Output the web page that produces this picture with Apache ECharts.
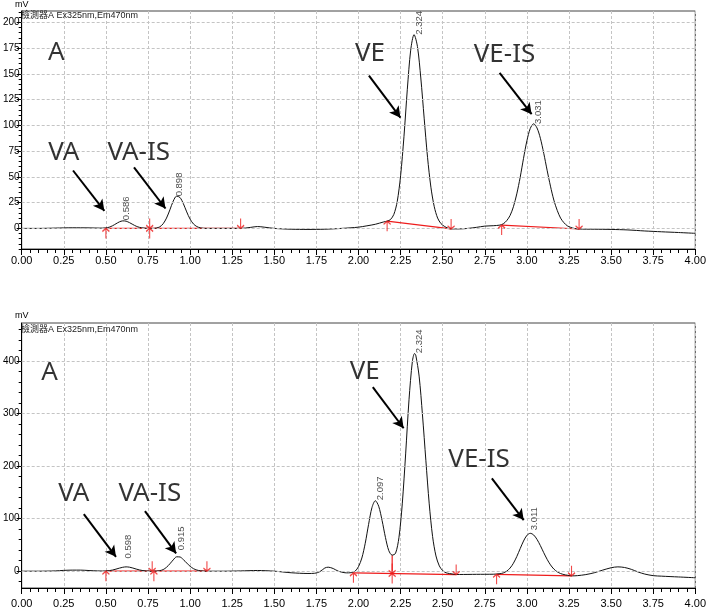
<!DOCTYPE html>
<html><head><meta charset="utf-8">
<script src="https://cdn.jsdelivr.net/npm/echarts@6/dist/echarts.min.js"></script>
<style>html,body{margin:0;padding:0;background:#fff}#c{width:709px;height:612px}</style>
</head><body><div id="c"></div><script>
// ---------- DATA (time in min, signal in mV) ----------
const topTrace = [
[0.00,0],[0.10,0],[0.20,0.3],[0.30,0.6],[0.40,0.5],[0.46,0.3],
[0.48,0.3],[0.50,0.5],[0.52,1.2],[0.54,2.6],[0.56,4.5],[0.58,6.3],[0.60,7.3],[0.62,7.0],[0.64,5.6],[0.66,3.8],[0.68,2.1],[0.70,1.0],[0.72,0.4],[0.74,0.1],[0.76,0],
[0.78,0],[0.80,0.4],[0.82,1.5],[0.84,4.5],[0.86,10],[0.88,18],[0.90,26.5],[0.92,31.3],[0.94,30],[0.96,24],[0.98,16],[1.00,9],[1.02,4.3],[1.04,1.8],[1.06,0.6],[1.08,0.1],[1.10,0],
[1.20,0],[1.30,0],[1.36,1],[1.40,1.8],[1.44,1.2],[1.50,0],[1.60,-0.8],[1.70,-1],[1.80,-0.8],[1.90,0],[2.00,1.2],[2.05,2.5],[2.10,4],[2.15,6.3],
[2.17,7],[2.19,8.6],[2.21,13.6],[2.23,26],[2.25,51],[2.27,89],[2.29,135],[2.31,173],[2.33,188],[2.35,176.6],[2.37,146],[2.39,107],[2.41,69],[2.43,40],[2.45,21],[2.47,10],[2.49,4.6],[2.51,2],[2.53,0.3],[2.55,-0.5],
[2.60,-0.5],[2.65,0],[2.70,1],[2.75,2.2],[2.80,2.6],[2.84,3.2],
[2.86,4.5],[2.88,7.5],[2.90,12.5],[2.92,21],[2.94,33.5],[2.96,49.5],[2.98,68],[3.00,85],[3.02,97],[3.04,101.5],[3.06,97.5],[3.08,87.5],[3.10,73],[3.12,56.5],[3.14,41],[3.16,27.5],[3.18,17.5],[3.20,10],[3.22,5.5],[3.24,2.5],[3.26,1],[3.28,0],[3.31,-0.6],
[3.40,-0.8],[3.50,-1],[3.60,-1.5],[3.70,-2.5],[3.80,-3.3],[3.90,-4],[4.00,-4.8]
];
const bottomTrace = [
[0.00,0],[0.10,0],[0.20,0.5],[0.25,1.5],[0.30,2],[0.35,2],[0.40,1.2],[0.45,0.5],
[0.48,0.3],[0.50,0.5],[0.52,1],[0.54,2.2],[0.56,3.9],[0.58,5.8],[0.60,7.4],[0.62,8.2],[0.64,7.6],[0.66,6],[0.68,4],[0.70,2.3],[0.72,1.1],[0.74,0.4],[0.76,0],[0.78,0],
[0.80,0.2],[0.82,1],[0.84,3],[0.86,7.4],[0.88,14],[0.90,21.5],[0.92,27.3],[0.94,27],[0.96,22],[0.98,15.5],[1.00,9.3],[1.02,4.8],[1.04,2.2],[1.06,0.8],[1.08,0.2],[1.10,0],
[1.20,0],[1.30,0.5],[1.40,1.3],[1.50,0],[1.60,-3],[1.70,-4.4],[1.74,-4],[1.77,-1],[1.80,6],[1.82,7.6],[1.85,5],[1.88,0],[1.92,-3],[1.94,-3.2],
[1.96,-2.5],[1.98,0],[2.00,8.6],[2.02,25],[2.04,53],[2.06,89],[2.08,121],[2.10,134],[2.12,123.5],[2.14,96.5],[2.16,64.3],[2.18,39],[2.20,30.5],[2.22,34],[2.24,63.5],[2.26,128],[2.28,223],[2.30,326],[2.32,399],[2.333,414],[2.34,411],[2.36,371],[2.38,297],[2.40,211],[2.42,128],[2.44,66],[2.46,29],[2.48,10],[2.50,1],[2.52,-3],[2.54,-4.5],[2.56,-5.5],[2.58,-6.3],
[2.60,-6.3],[2.70,-6],[2.80,-5.8],
[2.84,-4.8],[2.86,-3.3],[2.88,0],[2.90,5.9],[2.92,15.1],[2.94,27.8],[2.96,42.8],[2.98,57.3],[3.00,68.1],[3.02,72],[3.04,68.9],[3.06,60.5],[3.08,48.6],[3.10,35.2],[3.12,22.6],[3.14,12],[3.16,4.1],[3.18,-1.2],[3.20,-4.5],[3.22,-6.5],[3.24,-7.7],[3.27,-8.9],
[3.30,-8.5],[3.35,-6.5],[3.40,-3],[3.45,2],[3.50,6.5],[3.54,8.2],[3.58,7],[3.62,3.5],[3.66,-1.5],[3.70,-5.5],[3.75,-8.5],[3.80,-9.5],[3.90,-11],[4.00,-12.5]
];
// integration baselines (red)
const topBaselines = [[[0.50,0],[0.76,0]],[[0.76,0],[1.30,0]],[[2.17,7],[2.55,-0.5]],[[2.85,3.2],[3.31,-0.6]]];
const bottomBaselines = [[[0.50,0],[0.775,0]],[[0.785,0],[1.10,0]],[[1.97,-3.2],[2.58,-6.4]],[[2.20,-4.4],[2.20,30.5]],[[2.82,-6],[3.265,-8.9]]];
const topStartMarks = [[0.50,0],[0.76,0],[2.17,7],[2.85,3.2]];
const topEndMarks = [[0.76,0],[1.30,0],[2.55,-0.5],[3.31,-0.6]];
const bottomStartMarks = [[0.50,0],[0.785,0],[1.97,-3.2],[2.20,-4.4],[2.82,-6]];
const bottomEndMarks = [[0.775,0],[1.10,0],[2.20,-4.4],[2.58,-6.4],[3.265,-8.9]];
// peak retention-time labels: [time, mV at label foot, text]
const topPeakLabels = [[0.586,8.0,'0.586'],[0.898,31.1,'0.898'],[2.324,188,'2.324'],[3.031,101.4,'3.031']];
const bottomPeakLabels = [[0.598,24.2,'0.598'],[0.915,40,'0.915'],[2.097,135,'2.097'],[2.324,414.7,'2.324'],[3.011,78,'3.011']];
// annotation texts and arrows (data coordinates)
const topNotes = [[0.206,170.9,'A'],[0.250,73.8,'VA'],[0.695,73.8,'VA-IS'],[2.068,170.1,'VE'],[2.867,168.9,'VE-IS']];
const bottomNotes = [[0.165,378,'A'],[0.309,146.7,'VA'],[0.761,146.7,'VA-IS'],[2.037,378.7,'VE'],[2.716,212.4,'VE-IS']];
const topArrows = [[[0.305,56.2],[0.491,17.0]],[[0.667,59.3],[0.854,19.3]],[[2.062,148.3],[2.249,107.5]],[[2.838,150.9],[3.028,110.8]]];
const bottomArrows = [[[0.369,108.6],[0.560,27.2]],[[0.732,114.3],[0.917,33.7]],[[2.085,349.9],[2.268,271.8]],[[2.792,176.5],[2.981,97.1]]];
// axis ticks
const topYMajor = [0,25,50,75,100,125,150,175,200];
const bottomYMajor = [0,100,200,300,400];
const detectorText = '檢測器A Ex325nm,Em470nm';

// ---------- CHART ----------
function range(a,b,s){const r=[];for(let v=a;v<=b+1e-9;v+=s)r.push(Math.round(v*1000)/1000);return r;}
const FONT_AX = "'Liberation Sans Narrow','Arial Narrow','Liberation Sans',Arial,sans-serif";
const RED = '#ee1c1c';
const GRIDC = '#c4c4c4';
const upArrow = 'path://M0,5 L5,0 L10,5 M5,0 L5,16';

const panels = [
  {trace:topTrace, yMin:-20, yMax:211, major:topYMajor, minor:range(-20,210,5), baselines:topBaselines,
   starts:topStartMarks, ends:topEndMarks, peaks:topPeakLabels, notes:topNotes, arrows:topArrows,
   grid:{left:20,right:10,top:9,bottom:363}, xMargin:6, nameGap:2},
  {trace:bottomTrace, yMin:-32, yMax:472, major:bottomYMajor, minor:range(-20,460,20), baselines:bottomBaselines,
   starts:bottomStartMarks, ends:bottomEndMarks, peaks:bottomPeakLabels, notes:bottomNotes, arrows:bottomArrows,
   grid:{left:20,right:10,top:323,bottom:24}, xMargin:10, nameGap:3}
];

const option = {animation:false, backgroundColor:'#fff', grid:[], xAxis:[], yAxis:[], series:[], graphic:[]};
panels.forEach((p,i)=>{
  option.grid.push(Object.assign({show:true, borderColor:'#444', borderWidth:1, backgroundColor:'transparent'}, p.grid));
  option.xAxis.push({gridIndex:i, type:'value', min:0, max:4, interval:0.25,
    axisLine:{show:true, onZero:false, lineStyle:{color:'#000', width:1}},
    axisTick:{show:true, length:6, lineStyle:{color:'#000'}},
    minorTick:{show:true, splitNumber:5, length:4, lineStyle:{color:'#000'}},
    axisLabel:{formatter:v=>v.toFixed(2), fontSize:11, color:'#000', margin:p.xMargin, fontFamily:FONT_AX},
    splitLine:{show:true, lineStyle:{color:GRIDC, type:[3,2], width:1}}});
  option.yAxis.push({gridIndex:i, type:'value', min:p.yMin, max:p.yMax, position:'left',
    name:'mV', nameLocation:'end', nameGap:p.nameGap, nameTextStyle:{fontSize:9, color:'#000', fontFamily:FONT_AX},
    axisLine:{show:true, onZero:false, lineStyle:{color:'#000', width:1}},
    axisTick:{show:true, length:5, customValues:p.major, lineStyle:{color:'#000'}},
    axisLabel:{show:true, customValues:p.major, fontSize:10, margin:2, color:'#000', fontFamily:FONT_AX},
    splitLine:{show:false}});
  option.yAxis.push({gridIndex:i, type:'value', min:p.yMin, max:p.yMax, position:'left',
    axisLine:{show:false}, axisTick:{show:true, length:3, customValues:p.minor, lineStyle:{color:'#000'}},
    axisLabel:{show:false}, splitLine:{show:false}});
  const yi = i*2;
  // horizontal grid lines
  option.series.push({type:'line', xAxisIndex:i, yAxisIndex:yi, data:[[0,0]], showSymbol:false, silent:true,
    lineStyle:{opacity:0}, z:1,
    markLine:{silent:true, symbol:['none','none'], label:{show:false}, animation:false,
      lineStyle:{color:GRIDC, type:[3,2], width:1}, emphasis:{disabled:true},
      data:p.major.map(v=>({yAxis:v}))}});
  // red baselines
  p.baselines.forEach(seg=>{
    option.series.push({type:'line', xAxisIndex:i, yAxisIndex:yi, data:seg, showSymbol:false, silent:true,
      lineStyle:{color:RED, width:1.2}, z:3});
  });
  // chromatogram
  option.series.push({type:'line', xAxisIndex:i, yAxisIndex:yi, data:p.trace, showSymbol:false, smooth:0.3,
    lineStyle:{color:'#111', width:1}, z:4, silent:true,
    markLine:{silent:true, symbol:['none','arrow'], symbolSize:[9,11], label:{show:false}, animation:false,
      lineStyle:{color:'#000', width:2, type:'solid'}, emphasis:{disabled:true},
      data:p.arrows.map(a=>[{coord:a[0]},{coord:a[1]}])}});
  // peak start / end markers
  option.series.push({type:'scatter', xAxisIndex:i, yAxisIndex:yi, data:p.starts, symbol:upArrow, symbolSize:[7,10],
    symbolOffset:[0,'50%'], itemStyle:{color:'transparent', borderColor:RED, borderWidth:1.3}, z:5, silent:true});
  option.series.push({type:'scatter', xAxisIndex:i, yAxisIndex:yi, data:p.ends, symbol:upArrow, symbolSize:[7,10],
    symbolRotate:180, symbolOffset:[0,'-50%'], itemStyle:{color:'transparent', borderColor:RED, borderWidth:1.3}, z:5, silent:true});
  // peak retention time labels
  option.series.push({type:'scatter', xAxisIndex:i, yAxisIndex:yi, data:p.peaks, symbolSize:1,
    itemStyle:{color:'rgba(0,0,0,0)'}, z:6, silent:true,
    label:{show:true, position:'inside', rotate:90, align:'left', verticalAlign:'middle', offset:[0,6],
      formatter:d=>d.value[2], fontSize:9.5, color:'#222', fontFamily:"'Liberation Sans',Arial,sans-serif"}});
  // big annotations
  option.series.push({type:'scatter', xAxisIndex:i, yAxisIndex:yi, data:p.notes, symbolSize:1,
    itemStyle:{color:'rgba(0,0,0,0)'}, z:6, silent:true,
    label:{show:true, position:'inside', align:'center', verticalAlign:'middle',
      formatter:d=>d.value[2], fontSize:26, color:'#000', fontFamily:"'Noto Sans',sans-serif"}});
  option.graphic.push({type:'text', left:p.grid.left+1, top:p.grid.top+2, z:10,
    style:{text:detectorText, fill:'#222', font:"9px 'Liberation Sans','Noto Sans CJK TC',sans-serif"}});
});
const chart = echarts.init(document.getElementById('c'));
chart.setOption(option);
</script></body></html>
